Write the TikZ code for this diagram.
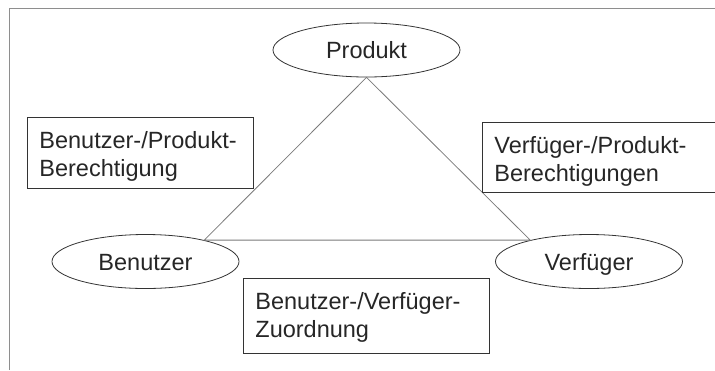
\documentclass[tikz,border=0pt]{standalone}
\usepackage{fontspec}
\setmainfont{Liberation Sans}
\usepackage{tikz}
\usetikzlibrary{shapes.geometric}
\definecolor{rim}{HTML}{8E8E8E}
\definecolor{edge}{HTML}{7A7A7A}

\begin{document}
\begin{tikzpicture}[x=1bp,y=-1bp,every node/.style={font=\fontsize{23.5bp}{28bp}\selectfont,text=black!85}]
      \tikzstyle{ent}=[ellipse,draw=black!80,line width=0.8bp,minimum width=187bp,minimum height=54bp,
                       inner sep=0pt,text height=17bp,text depth=0pt];
      \tikzstyle{rel}=[rectangle,draw=black!80,line width=0.8bp,anchor=north west,align=left,
                       inner xsep=12bp,inner ysep=10bp,text height=21bp];
      \tikzstyle{link}=[draw=edge,line width=0.8bp];
      \useasboundingbox (0,0) rectangle (715,370);
      % frame of the screenshot
      \draw[rim,line width=1bp] (9.5,370) -- (9.5,8.5) -- (715,8.5);
      \node[ent] (prod) at (366.5,50)  {Produkt};
      \node[ent] (ben)  at (145.5,261.5) {Benutzer};
      \node[ent] (ver)  at (589,261.5) {Verfüger};
      \draw[link] (prod.south) -- (ben.20) -- (ver.160) -- cycle;
      \node[rel,text width=202bp,text depth=30bp] (benprod) at (27,117)  {Benutzer-/Produkt-\\Berechtigung};
      \node[rel,text width=230bp,text depth=29bp] (verprod) at (482,122) {Verfüger-/Produkt-\\Berechtigungen};
      \node[rel,text width=222bp,text depth=34bp] (benver)  at (243,278) {Benutzer-/Verfüger-\\Zuordnung};
    \end{tikzpicture}
\end{document}
